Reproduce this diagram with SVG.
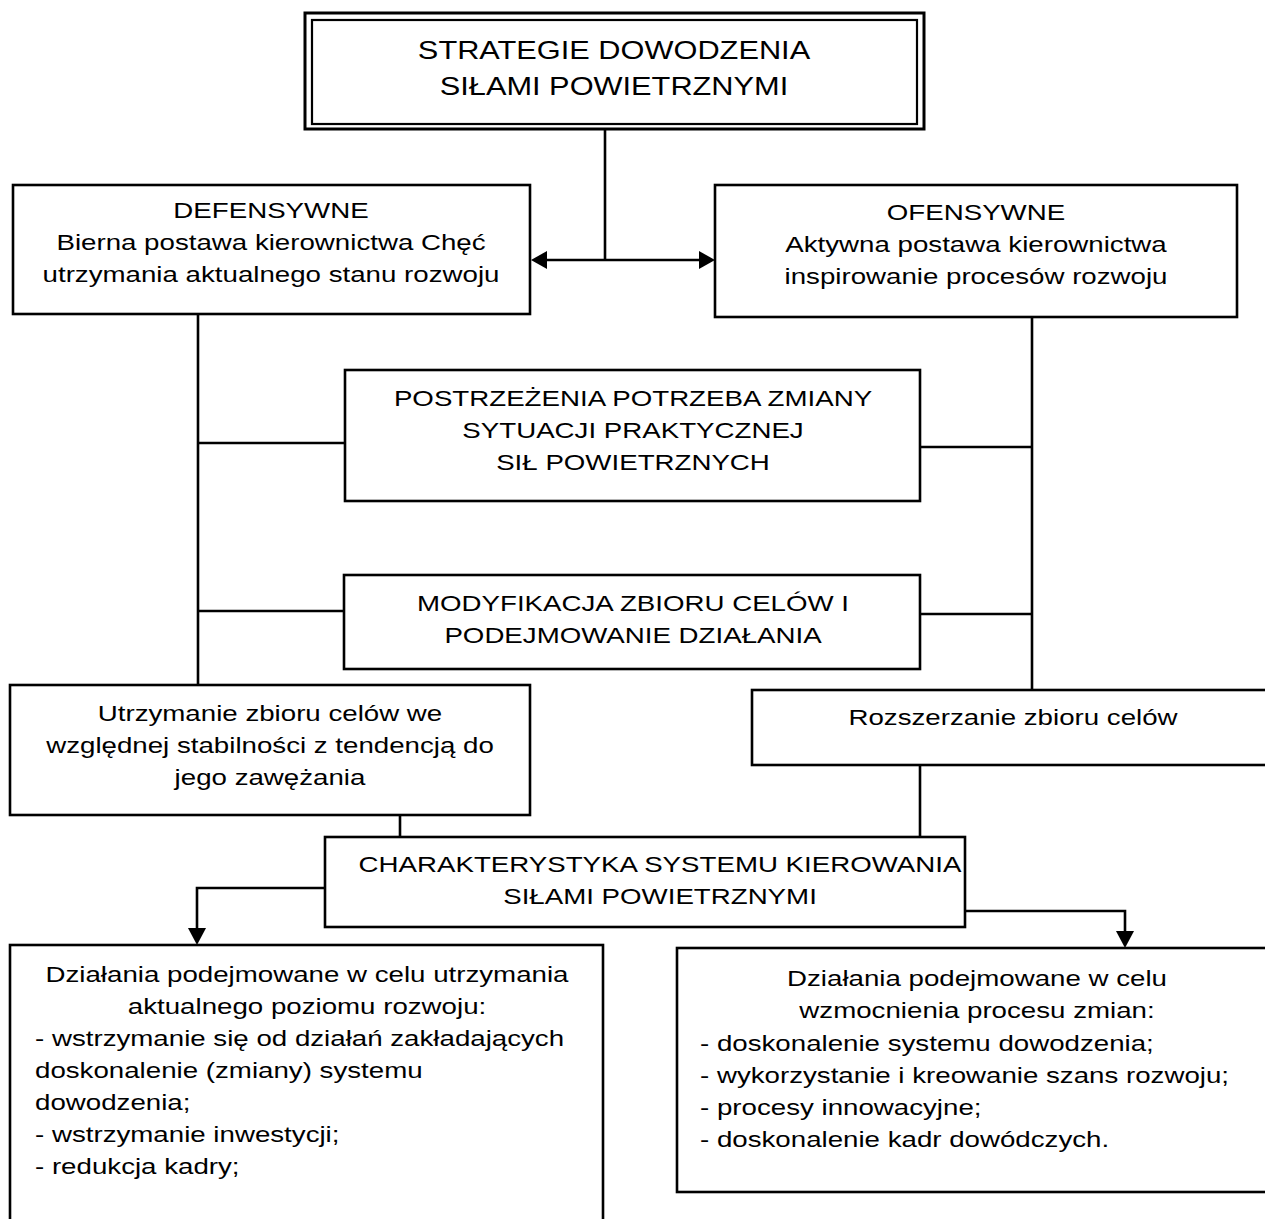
<svg xmlns="http://www.w3.org/2000/svg" width="1265" height="1219" viewBox="0 0 1265 1219">
  <defs>
    <style>
      .box { fill: #ffffff; stroke: #000000; stroke-width: 2.6; }
      .box-outer { fill: #ffffff; stroke: #000000; stroke-width: 3; }
      .box-inner { fill: none; stroke: #000000; stroke-width: 2.2; }
      .wire { fill: none; stroke: #000000; stroke-width: 2.6; }
      text { font-family: "Liberation Sans", Arial, sans-serif; font-size: 22.5px; fill: #000000; }
      .c { text-anchor: middle; }
      .l { text-anchor: start; }
      .title { font-size: 25px; }
    </style>
    <marker id="head" viewBox="0 0 12 12" refX="12" refY="6" markerWidth="12" markerHeight="12" markerUnits="userSpaceOnUse" orient="auto">
      <path d="M0,0 L12,6 L0,12 Z" fill="#000000"/>
    </marker>
    <marker id="head-start" viewBox="0 0 12 12" refX="0" refY="6" markerWidth="12" markerHeight="12" markerUnits="userSpaceOnUse" orient="auto">
      <path d="M12,0 L0,6 L12,12 Z" fill="#000000"/>
    </marker>
  </defs>

  <rect width="1265" height="1219" fill="#ffffff"/>

  <!-- connectors -->
  <g id="connectors">
    <line class="wire" x1="605" y1="129" x2="605" y2="260"/>
    <line class="wire" x1="545" y1="260" x2="700" y2="260"/>
    <path d="M531,260 L547,251 L547,269 Z" fill="#000"/>
    <path d="M715,260 L699,251 L699,269 Z" fill="#000"/>

    <line class="wire" x1="198" y1="314" x2="198" y2="685"/>
    <line class="wire" x1="1032" y1="317" x2="1032" y2="690"/>

    <line class="wire" x1="198" y1="443" x2="345" y2="443"/>
    <line class="wire" x1="920" y1="447" x2="1032" y2="447"/>
    <line class="wire" x1="198" y1="611" x2="344" y2="611"/>
    <line class="wire" x1="920" y1="614" x2="1032" y2="614"/>

    <line class="wire" x1="400" y1="815" x2="400" y2="837"/>
    <line class="wire" x1="920" y1="765" x2="920" y2="837"/>

    <polyline class="wire" points="325,888 197,888 197,930"/>
    <path d="M197,945 L188,928 L206,928 Z" fill="#000"/>
    <polyline class="wire" points="965,911 1125,911 1125,933"/>
    <path d="M1125,948 L1116,931 L1134,931 Z" fill="#000"/>
  </g>

  <!-- top: strategies -->
  <g id="node-strategie">
    <rect class="box-outer" x="305" y="13" width="619" height="116"/>
    <rect class="box-inner" x="312" y="20" width="605" height="104"/>
    <g transform="translate(614,0) scale(1.23,1)">
      <text class="c title" x="0" y="59">STRATEGIE DOWODZENIA</text>
      <text class="c title" x="0" y="95">SIŁAMI POWIETRZNYMI</text>
    </g>
  </g>

  <g id="node-defensywne">
    <rect class="box" x="13" y="185" width="517" height="129"/>
    <g transform="translate(271,0) scale(1.23,1)">
      <text class="c" x="0" y="218">DEFENSYWNE</text>
      <text class="c" x="0" y="250">Bierna postawa kierownictwa Chęć</text>
      <text class="c" x="0" y="282">utrzymania aktualnego stanu rozwoju</text>
    </g>
  </g>

  <g id="node-ofensywne">
    <rect class="box" x="715" y="185" width="522" height="132"/>
    <g transform="translate(976,0) scale(1.23,1)">
      <text class="c" x="0" y="220">OFENSYWNE</text>
      <text class="c" x="0" y="252">Aktywna postawa kierownictwa</text>
      <text class="c" x="0" y="284">inspirowanie procesów rozwoju</text>
    </g>
  </g>

  <g id="node-postrzezenia">
    <rect class="box" x="345" y="370" width="575" height="131"/>
    <g transform="translate(633,0) scale(1.23,1)">
      <text class="c" x="0" y="406">POSTRZEŻENIA POTRZEBA ZMIANY</text>
      <text class="c" x="0" y="438">SYTUACJI PRAKTYCZNEJ</text>
      <text class="c" x="0" y="470">SIŁ POWIETRZNYCH</text>
    </g>
  </g>

  <g id="node-modyfikacja">
    <rect class="box" x="344" y="575" width="576" height="94"/>
    <g transform="translate(633,0) scale(1.23,1)">
      <text class="c" x="0" y="611">MODYFIKACJA ZBIORU CELÓW I</text>
      <text class="c" x="0" y="643">PODEJMOWANIE DZIAŁANIA</text>
    </g>
  </g>

  <g id="node-utrzymanie">
    <rect class="box" x="10" y="685" width="520" height="130"/>
    <g transform="translate(270,0) scale(1.23,1)">
      <text class="c" x="0" y="721">Utrzymanie zbioru celów we</text>
      <text class="c" x="0" y="753">względnej stabilności z tendencją do</text>
      <text class="c" x="0" y="785">jego zawężania</text>
    </g>
  </g>

  <g id="node-rozszerzanie">
    <rect class="box" x="752" y="690" width="520" height="75"/>
    <g transform="translate(1013,0) scale(1.23,1)">
      <text class="c" x="0" y="725">Rozszerzanie zbioru celów</text>
    </g>
  </g>

  <g id="node-charakterystyka">
    <rect class="box" x="325" y="837" width="640" height="90"/>
    <g transform="translate(660,0) scale(1.23,1)">
      <text class="c" x="0" y="872">CHARAKTERYSTYKA SYSTEMU KIEROWANIA</text>
      <text class="c" x="0" y="904">SIŁAMI POWIETRZNYMI</text>
    </g>
  </g>

  <g id="node-dzialania-utrzymanie">
    <rect class="box" x="10" y="945" width="593" height="290"/>
    <g transform="translate(307,0) scale(1.23,1)">
      <text class="c" x="0" y="982">Działania podejmowane w celu utrzymania</text>
      <text class="c" x="0" y="1014">aktualnego poziomu rozwoju:</text>
    </g>
    <g transform="translate(35,0) scale(1.23,1)">
      <text class="l" x="0" y="1046">- wstrzymanie się od działań zakładających</text>
      <text class="l" x="0" y="1078">doskonalenie (zmiany) systemu</text>
      <text class="l" x="0" y="1110">dowodzenia;</text>
      <text class="l" x="0" y="1142">- wstrzymanie inwestycji;</text>
      <text class="l" x="0" y="1174">- redukcja kadry;</text>
    </g>
  </g>

  <g id="node-dzialania-zmiany">
    <rect class="box" x="677" y="948" width="600" height="244"/>
    <g transform="translate(977,0) scale(1.23,1)">
      <text class="c" x="0" y="986">Działania podejmowane w celu</text>
      <text class="c" x="0" y="1018">wzmocnienia procesu zmian:</text>
    </g>
    <g transform="translate(700,0) scale(1.23,1)">
      <text class="l" x="0" y="1051">- doskonalenie systemu dowodzenia;</text>
      <text class="l" x="0" y="1083">- wykorzystanie i kreowanie szans rozwoju;</text>
      <text class="l" x="0" y="1115">- procesy innowacyjne;</text>
      <text class="l" x="0" y="1147">- doskonalenie kadr dowódczych.</text>
    </g>
  </g>
</svg>
